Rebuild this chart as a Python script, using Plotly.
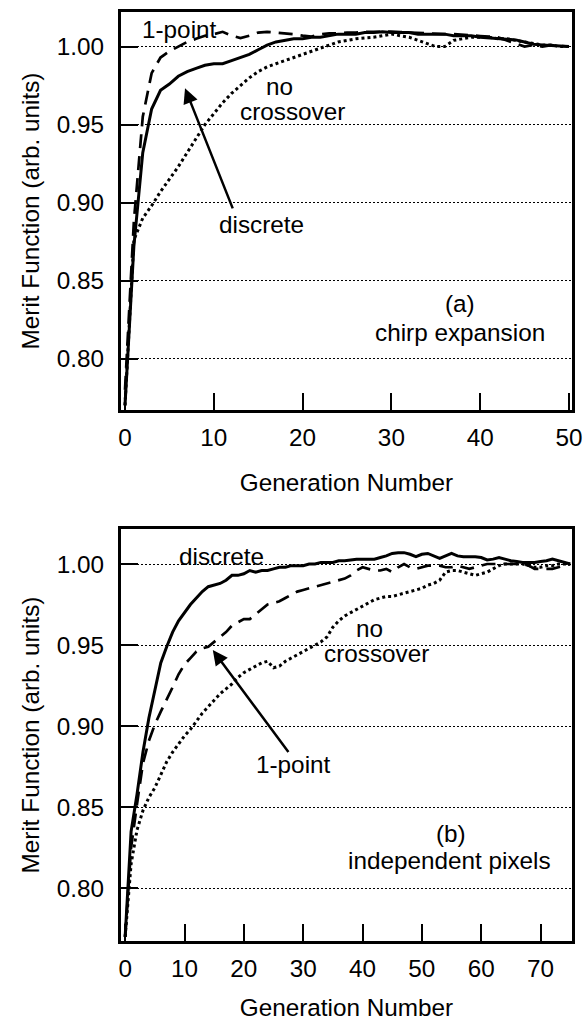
import plotly.graph_objects as go

# ---------------- data ----------------
gen_a = list(range(0, 51))
a_discrete = [0.770, 0.872, 0.932, 0.960, 0.972, 0.976, 0.981, 0.984, 0.986, 0.988,
              0.989, 0.989, 0.991, 0.993, 0.995, 0.998, 1.001, 1.003, 1.004, 1.005,
              1.005, 1.006, 1.006, 1.007, 1.008, 1.008, 1.008, 1.009, 1.009, 1.0095,
              1.009, 1.009, 1.009, 1.008, 1.008, 1.008, 1.008, 1.007, 1.007, 1.007,
              1.006, 1.0055, 1.005, 1.0045, 1.0043, 1.003, 1.0015, 1.001, 1.0008, 1.0003,
              1.000]
a_onepoint = [0.780, 0.888, 0.955, 0.983, 0.993, 0.997, 1.000, 1.003, 1.005, 1.007,
              1.008, 1.0095, 1.007, 1.0055, 1.007, 1.009, 1.0095, 1.009, 1.0085, 1.008,
              1.007, 1.0065, 1.008, 1.0085, 1.0085, 1.009, 1.009, 1.0095, 1.0095, 1.0096,
              1.0096, 1.0093, 1.009, 1.0088, 1.0085, 1.0082, 1.008, 1.008, 1.0075, 1.007,
              1.0068, 1.0065, 1.006, 1.004, 1.002, 1.000, 1.001, 1.000, 1.001, 1.0005,
              1.000]
a_nocross = [0.770, 0.876, 0.890, 0.898, 0.907, 0.915, 0.923, 0.932, 0.941, 0.950,
             0.957, 0.964, 0.970, 0.975, 0.980, 0.984, 0.987, 0.989, 0.991, 0.993,
             0.995, 0.997, 0.999, 1.001, 1.003, 1.004, 1.005, 1.0055, 1.006, 1.007,
             1.008, 1.007, 1.006, 1.004, 1.002, 1.000, 1.000, 1.004, 1.005, 1.006,
             1.006, 1.006, 1.005, 1.005, 1.004, 1.003, 1.002, 1.001, 1.001, 1.000,
             1.000]

gen_b = list(range(0, 76))
b_discrete = [0.770, 0.835, 0.858, 0.884, 0.905, 0.923, 0.939, 0.949, 0.958, 0.965,
              0.970, 0.975, 0.979, 0.983, 0.986, 0.987, 0.988, 0.990, 0.993, 0.993,
              0.994, 0.996, 0.995, 0.996, 0.996, 0.997, 0.998, 0.998, 0.999, 0.999,
              0.999, 1.000, 1.000, 1.001, 1.001, 1.001, 1.002, 1.002, 1.0025, 1.003,
              1.003, 1.003, 1.003, 1.004, 1.005, 1.0065, 1.007, 1.007, 1.006, 1.0045,
              1.006, 1.0065, 1.005, 1.0035, 1.005, 1.0065, 1.005, 1.0045, 1.0045, 1.0045,
              1.004, 1.0025, 1.003, 1.004, 1.003, 1.002, 1.0015, 1.001, 1.001, 1.001,
              1.0015, 1.002, 1.003, 1.002, 1.001, 1.000]
b_onepoint = [0.770, 0.825, 0.852, 0.877, 0.891, 0.901, 0.909, 0.916, 0.924, 0.932,
              0.938, 0.942, 0.946, 0.948, 0.949, 0.952, 0.955, 0.958, 0.962, 0.964,
              0.966, 0.966, 0.969, 0.972, 0.975, 0.976, 0.977, 0.979, 0.981, 0.983,
              0.984, 0.985, 0.986, 0.987, 0.988, 0.989, 0.990, 0.991, 0.993, 0.996,
              0.998, 0.997, 0.996, 0.996, 0.997, 0.995, 0.998, 1.000, 0.998, 0.997,
              0.998, 0.999, 0.999, 0.999, 0.998, 0.998, 0.999, 0.998, 0.997, 0.998,
              0.999, 1.000, 1.000, 1.000, 1.000, 1.000, 1.000, 1.000, 0.999, 0.997,
              0.997, 0.997, 0.997, 0.998, 0.999, 1.000]
b_nocross = [0.770, 0.815, 0.836, 0.848, 0.856, 0.862, 0.870, 0.878, 0.884, 0.889,
             0.894, 0.898, 0.903, 0.908, 0.912, 0.916, 0.920, 0.923, 0.926, 0.930,
             0.933, 0.935, 0.937, 0.939, 0.940, 0.936, 0.937, 0.940, 0.942, 0.944,
             0.946, 0.948, 0.950, 0.952, 0.955, 0.961, 0.965, 0.968, 0.970, 0.972,
             0.974, 0.976, 0.978, 0.979, 0.980, 0.980, 0.981, 0.982, 0.983, 0.984,
             0.985, 0.987, 0.988, 0.990, 0.995, 0.996, 0.996, 0.995, 0.994, 0.993,
             0.994, 0.995, 0.997, 0.999, 1.000, 1.000, 1.000, 1.000, 0.999, 0.998,
             0.998, 0.999, 0.999, 1.000, 1.000, 1.000]

y_ticks = [0.80, 0.85, 0.90, 0.95, 1.00]
xa_ticks = [0, 10, 20, 30, 40, 50]
xb_ticks = [0, 10, 20, 30, 40, 50, 60, 70]

# ---------------- figure ----------------
FONT = "Liberation Sans, Arial, Helvetica, sans-serif"
FS = 24.3
TXT = dict(family=FONT, size=FS, color="black")

styles = {
    "discrete": dict(color="black", width=3, dash="solid"),
    "1-point": dict(color="black", width=2.7, dash="14px,8px"),
    "no crossover": dict(color="black", width=3, dash="3px,3px"),
}

fig = go.Figure()
for name, ys in [("no crossover", a_nocross), ("1-point", a_onepoint), ("discrete", a_discrete)]:
    fig.add_trace(go.Scatter(x=gen_a, y=ys, mode="lines", name=name, line=styles[name],
                             showlegend=False, xaxis="x", yaxis="y"))
for name, ys in [("no crossover", b_nocross), ("1-point", b_onepoint), ("discrete", b_discrete)]:
    fig.add_trace(go.Scatter(x=gen_b, y=ys, mode="lines", name=name, line=styles[name],
                             showlegend=False, xaxis="x2", yaxis="y2"))

def ax_style(**kw):
    d = dict(showline=True, linecolor="black", linewidth=3, mirror=True,
             ticks="inside", ticklen=17, tickwidth=2, tickcolor="black",
             tickfont=TXT, zeroline=False, automargin=False)
    d.update(kw)
    return d

fig.update_layout(
    width=587, height=1021,
    margin=dict(l=121, r=15, t=12, b=80),
    plot_bgcolor="white", paper_bgcolor="white",
    font=TXT,
    xaxis=ax_style(domain=[0, 1], anchor="y", range=[-0.45, 50.34], tickvals=xa_ticks,
                   showgrid=False, ticklabelstandoff=4,
                   title=dict(text="Generation Number", standoff=24, font=TXT)),
    yaxis=ax_style(domain=[0.5716, 1.0], anchor="x", range=[0.767, 1.0222], tickvals=y_ticks,
                   tickformat=".2f", showgrid=True, gridcolor="black", gridwidth=1,
                   griddash="2px,2px", ticklabelstandoff=9,
                   title=dict(text="Merit Function (arb. units)", standoff=11, font=TXT)),
    xaxis2=ax_style(domain=[0, 1], anchor="y2", range=[-0.7, 75.3], tickvals=xb_ticks,
                    showgrid=False, ticklabelstandoff=4,
                    title=dict(text="Generation Number", standoff=24, font=TXT)),
    yaxis2=ax_style(domain=[0.0, 0.4435], anchor="x2", range=[0.7675, 1.0216],
                    tickvals=y_ticks, tickformat=".2f", showgrid=True, gridcolor="black",
                    gridwidth=1, griddash="2px,2px", ticklabelstandoff=9,
                    title=dict(text="Merit Function (arb. units)", standoff=11, font=TXT)),
)

def label(text, x, y, xref, yref):
    fig.add_annotation(text=text, x=x, y=y, xref=xref, yref=yref, showarrow=False,
                       xanchor="center", yanchor="middle", font=TXT)

def arrow(x, y, ax, ay, xref, yref):
    fig.add_annotation(text="", x=x, y=y, ax=ax, ay=ay, xref=xref, yref=yref,
                       axref=xref, ayref=yref, showarrow=True, arrowhead=2,
                       arrowsize=1.2, arrowwidth=2.5, arrowcolor="black", standoff=0)

# panel (a)
label("1-point", 6.19, 1.0113, "x", "y")
label("no", 17.45, 0.9745, "x", "y")
label("crossover", 18.9, 0.9583, "x", "y")
label("discrete", 15.37, 0.8857, "x", "y")
label("(a)", 37.7, 0.8356, "x", "y")
label("chirp expansion", 37.7, 0.8165, "x", "y")
arrow(6.76, 0.9733, 12.2, 0.8953, "x", "y")

# panel (b)
label("discrete", 16.16, 1.0049, "x2", "y2")
label("no", 41.2, 0.9600, "x2", "y2")
label("crossover", 42.4, 0.9446, "x2", "y2")
label("1-point", 28.3, 0.8765, "x2", "y2")
label("(b)", 54.9, 0.834, "x2", "y2")
label("independent pixels", 54.7, 0.8173, "x2", "y2")
arrow(14.77, 0.9469, 27.7, 0.8831, "x2", "y2")

fig.write_html("out.html", config={"displayModeBar": False},
               post_script="document.body.style.margin='0';document.body.style.overflow='hidden';")
